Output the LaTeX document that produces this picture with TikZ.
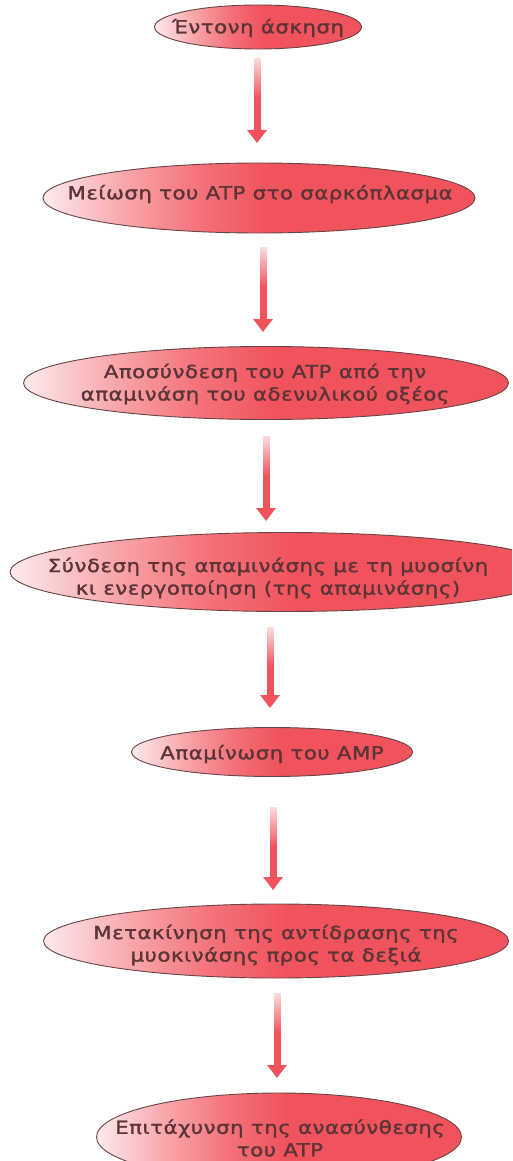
\documentclass[tikz,border=0pt]{standalone}
\usepackage{fontspec}
\newfontfamily\grfont{DejaVu Sans}[FakeStretch=1.18, LetterSpace=3, FakeBold=1.6]
\usetikzlibrary{shapes.geometric, arrows.meta, fadings}
\definecolor{myred}{RGB}{241,83,92}
\definecolor{txtc}{RGB}{92,52,54}
\definecolor{edgec}{RGB}{105,68,68}
\pgfdeclarehorizontalshading{ellshade}{100bp}{color(0bp)=(white); color(25bp)=(white!88!myred); color(34bp)=(white!50!myred); color(43bp)=(white!18!myred); color(51bp)=(myred); color(100bp)=(myred)}
\tikzfading[name=fadedown, top color=transparent!18, bottom color=transparent!100]
\tikzset{
  ell/.style={ellipse, draw=edgec, line width=0.9pt, shade, shading=ellshade, inner sep=0pt, outer sep=0pt},
  lbl/.style={text=txtc, font=\grfont\fontsize{18}{22.5}\selectfont, align=center, inner sep=0pt},
  flowarr/.style={draw=myred, line width=7pt, -{Triangle[width=19pt,length=13pt]}}
}
\newcommand\flowarrow[5]{%
  \draw[flowarr, shorten <=#4, shorten >=#5] ([xshift=#3]#1.south) -- ([xshift=#3]#1.south |- #2.north);
  \fill[white, path fading=fadedown] ([xshift=#3-5pt, yshift=-#4+1pt]#1.south) rectangle ([xshift=#3+5pt, yshift=-#4-40pt]#1.south);
}
\begin{document}
\begin{tikzpicture}[x=1pt, y=-1pt]
\useasboundingbox (0,0) rectangle (512,1161);
\clip (0,0) rectangle (512,1161);
\fill[white] (0,0) rectangle (512,1161);
% ellipses
\node[ell, minimum width=207pt, minimum height=44pt] (e1) at (258,27) {};
\node[ell, minimum width=432pt, minimum height=70pt] (e2) at (259,198) {};
\node[ell, minimum width=485pt, minimum height=73pt] (e3) at (266,383) {};
\node[ell, minimum width=550pt, minimum height=79pt] (e4) at (285,572) {};
\node[ell, minimum width=281pt, minimum height=49pt] (e5) at (272,752) {};
\node[ell, minimum width=465pt, minimum height=74pt] (e6) at (276,941) {};
\node[ell, minimum width=365pt, minimum height=88pt] (e7) at (279,1137) {};
% labels
\node[lbl] (t1) at (258,28) {Έντονη άσκηση};
\node[lbl] (t2) at (260,194) {Μείωση του ATP στο σαρκόπλασμα};
\node[lbl] (t3) at (265,384) {Αποσύνδεση του ATP από την\\απαμινάση του αδενυλικού οξέος};
\node[lbl] (t4) at (268,578) {Σύνδεση της απαμινάσης με τη μυοσίνη\\κι ενεργοποίηση (της απαμινάσης)};
\node[lbl] (t5) at (272,754) {Απαμίνωση του AMP};
\node[lbl] (t6) at (276,945) {Μετακίνηση της αντίδρασης της\\μυοκινάσης προς τα δεξιά};
\node[lbl] (t7) at (280,1138) {Επιτάχυνση της ανασύνθεσης\\του ATP};
% arrows
\flowarrow{e1}{e2}{-1pt}{9pt}{20pt}
\flowarrow{e2}{e3}{4pt}{14pt}{14.5pt}
\flowarrow{e3}{e4}{0pt}{16.5pt}{11.5pt}
\flowarrow{e4}{e5}{-15pt}{15.5pt}{19.5pt}
\flowarrow{e5}{e6}{1pt}{30.5pt}{14pt}
\flowarrow{e6}{e7}{1pt}{15pt}{15pt}
\end{tikzpicture}
\end{document}
